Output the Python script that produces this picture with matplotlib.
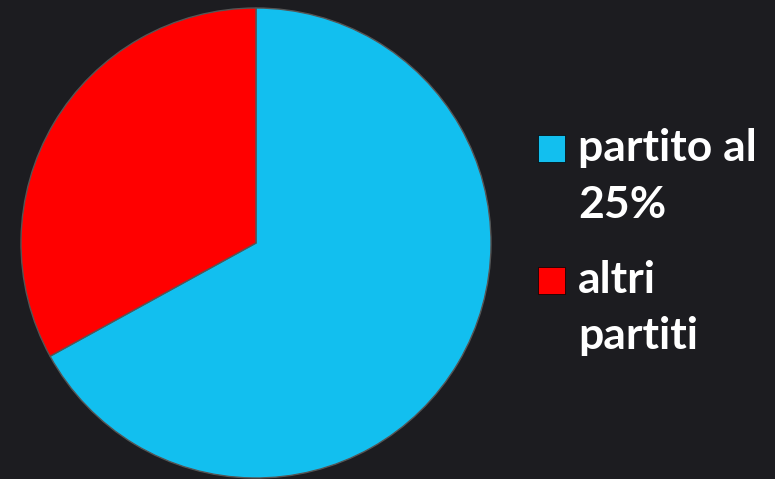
import matplotlib
matplotlib.use("Agg")
import matplotlib.pyplot as plt
from matplotlib.patches import Rectangle

labels = ["partito al\n25%", "altri\npartiti"]
values = [67, 33]
colors = ["#12BFEF", "#FF0000"]

W, H = 775, 479
fig = plt.figure(figsize=(W / 100, H / 100), dpi=100)
fig.patch.set_facecolor("#1c1c20")

cx, cy, r = 256, 243, 235
ax = fig.add_axes([(cx - r) / W, (H - cy - r) / H, 2 * r / W, 2 * r / H])
ax.set_facecolor("none")
ax.pie(values, colors=colors, startangle=90, counterclock=False,
       radius=1, wedgeprops=dict(linewidth=1.0, edgecolor="#555555"))
ax.set_xlim(-1.0, 1.0)
ax.set_ylim(-1.0, 1.0)
ax.axis("off")

# legend drawn manually
marker_tops = [135, 267]
text_tops = [128, 260]
for lab, col, mt, tt in zip(labels, colors, marker_tops, text_tops):
    fig.patches.append(Rectangle((538 / W, 1 - (mt + 27) / H), 27 / W, 27 / H,
                                 transform=fig.transFigure, facecolor=col,
                                 edgecolor="#000000", linewidth=0.5))
    fig.text(578 / W, 1 - tt / H, lab, color="white", fontsize=32,
             fontweight="bold", family="Lato", va="top", ha="left",
             linespacing=1.5)

fig.savefig("out.png", dpi=100, facecolor=fig.get_facecolor())
